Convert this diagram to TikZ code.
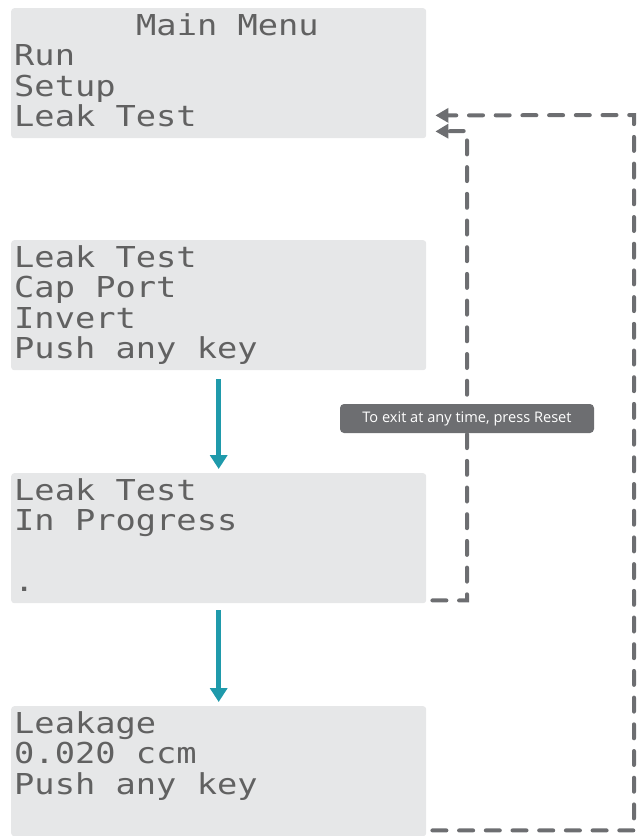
\documentclass[tikz,border=0pt]{standalone}
\usepackage{fontspec}
\setsansfont{Open Sans}
\newfontfamily\lcdfont[FakeStretch=1.17]{DejaVu Sans Mono}
\usetikzlibrary{arrows.meta}
\definecolor{lcdgrey}{HTML}{E6E7E8}
\definecolor{tipgrey}{HTML}{6D6E71}
\definecolor{flowteal}{HTML}{1F9AAB}
\tikzset{
	lcd/.style = {rectangle, fill=lcdgrey, rounded corners=3pt, inner sep=0pt,
		minimum width=415pt, minimum height=130pt, anchor=north west},% lcd screen
	lcd_line/.style = {anchor=base west, inner sep=0pt, text=black!62,
		font=\lcdfont\fontsize{28.8pt}{30pt}\selectfont},% one line of the screen
	flow/.style = {draw=flowteal, line width=4.5pt,
		-{Triangle[length=14pt,width=17pt]}},% next screen
	exit/.style = {draw=tipgrey, line width=4pt, line cap=round,
		dash pattern=on 14pt off 12.7pt, ->},% back to main menu
	note/.style = {rectangle, fill=tipgrey, rounded corners=4pt, text=white,
		font=\sffamily\fontsize{14.6pt}{16pt}\selectfont, inner sep=0pt,
		minimum width=254pt, minimum height=29pt}% reset hint
}
\begin{document}
\begin{tikzpicture}[x=1pt,y=-1pt,>={Triangle[length=13pt,width=14pt]}]
			\useasboundingbox (0,0) rectangle (642,836);
			\node [lcd] (menu) at (11,8) {};
			\node [lcd] (captest) at (11,240) {};
			\node [lcd] (progress) at (11,473) {};
			\node [lcd] (leakage) at (11,706) {};
			\node [lcd_line] (menu_title) at (136,35) {Main Menu};
			\node [lcd_line] (menu_run) at (14,65.5) {Run};
			\node [lcd_line] (menu_setup) at (14,96) {Setup};
			\node [lcd_line] (menu_leak) at (14,126.5) {Leak Test};
			\node [lcd_line] (captest_title) at (14,267) {Leak Test};
			\node [lcd_line] (captest_port) at (14,297.5) {Cap Port};
			\node [lcd_line] (captest_invert) at (14,328) {Invert};
			\node [lcd_line] (captest_push) at (14,358.5) {Push any key};
			\node [lcd_line] (progress_title) at (14,500) {Leak Test};
			\node [lcd_line] (progress_state) at (14,530.5) {In Progress};
			\node [lcd_line] (progress_bar) at (14,591.5) {.};
			\node [lcd_line] (leakage_title) at (14,733) {Leakage};
			\node [lcd_line] (leakage_value) at (14,763.5) {0.020 ccm};
			\node [lcd_line] (leakage_push) at (14,794) {Push any key};
			\draw [flow] ([yshift=-9pt]captest.south) -- ([yshift=4pt]progress.north);
			\draw [flow] ([yshift=-7pt]progress.south) -- ([yshift=4pt]leakage.north);
			\coordinate (exit_inner) at (467,131);
			\coordinate (exit_outer) at (634,115);
			\draw [exit] ([xshift=6pt,yshift=3pt]progress.south east) -| (exit_inner)
				-- ([xshift=9pt,yshift=7pt]menu.south east);
			\draw [exit] ([xshift=6pt,yshift=6pt]leakage.south east) -| (exit_outer)
				-- ([xshift=9pt,yshift=23pt]menu.south east);
			\node [note] (reset) at (467,418.5) {To exit at any time, press Reset};
\end{tikzpicture}
\end{document}
